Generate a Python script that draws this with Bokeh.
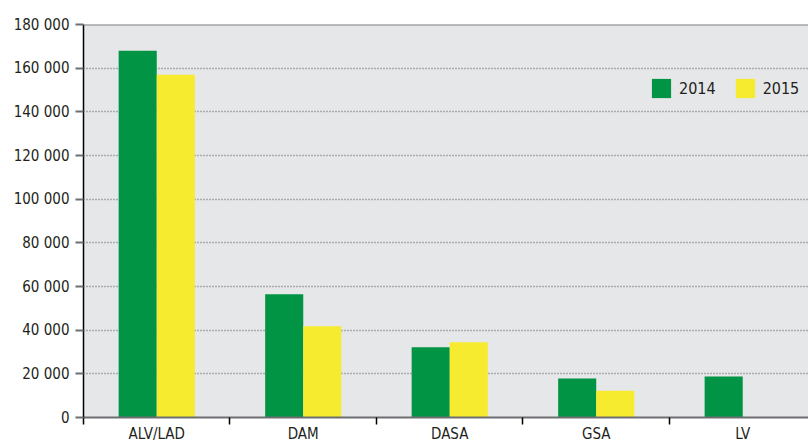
from bokeh.plotting import figure
from bokeh.models import (Range1d, FixedTicker, Legend, LegendItem, Span, ColumnDataSource)
from bokeh.embed import file_html
from bokeh.resources import INLINE

categories = ["ALV/LAD", "DAM", "DASA", "GSA", "LV"]
series_names = ["2014", "2015"]
values_2014 = [168000, 56500, 32200, 17900, 18800]
values_2015 = [157000, 41800, 34500, 12200, 0]
y_ticks = [0, 20000, 40000, 60000, 80000, 100000, 120000, 140000, 160000, 180000]
y_tick_labels = ["0", "20 000", "40 000", "60 000", "80 000", "100 000",
                 "120 000", "140 000", "160 000", "180 000"]

FONT = "DejaVu Sans Condensed"
TEXT = "#231f20"
GREEN = "#009444"
YELLOW = "#f6eb2f"

centers = [i + 0.5 for i in range(len(categories))]
bw = 0.26

p = figure(width=808, height=445, output_backend="svg", toolbar_location=None,
           x_range=Range1d(0, 4.949), y_range=Range1d(0, 180000),
           min_border_left=83, min_border_right=0, min_border_top=24,
           min_border_bottom=26)
p.background_fill_color = "#e6e7e8"
p.border_fill_color = "white"
p.outline_line_color = None

src = ColumnDataSource(dict(x1=[c - bw / 2 for c in centers], x2=[c + bw / 2 for c in centers],
                            v1=values_2014, v2=values_2015))
r1 = p.vbar(x="x1", top="v1", width=bw, source=src, fill_color=GREEN, line_color=None)
r2 = p.vbar(x="x2", top="v2", width=bw, source=src, fill_color=YELLOW, line_color=None)

# y axis
p.yaxis.ticker = FixedTicker(ticks=y_ticks, minor_ticks=[])
p.yaxis.major_label_overrides = {t: l for t, l in zip(y_ticks, y_tick_labels)}
p.yaxis.major_label_text_font = FONT
p.yaxis.major_label_text_font_size = "15px"
p.yaxis.major_label_text_color = TEXT
p.yaxis.major_tick_out = 8
p.yaxis.major_tick_in = 0
p.yaxis.major_tick_line_color = "#6d6e71"
p.yaxis.major_tick_line_width = 2
p.yaxis.axis_line_color = "black"
p.yaxis.axis_line_width = 1.5
p.yaxis.major_label_standoff = 6

# x axis
p.xaxis.ticker = FixedTicker(ticks=centers, minor_ticks=[0, 1, 2, 3, 4, 5])
p.xaxis.major_label_overrides = {c: n for c, n in zip(centers, categories)}
p.xaxis.major_label_text_font = FONT
p.xaxis.major_label_text_font_size = "15px"
p.xaxis.major_label_text_color = TEXT
p.xaxis.major_tick_out = 0
p.xaxis.major_tick_in = 0
p.xaxis.minor_tick_out = 7
p.xaxis.minor_tick_in = 0
p.xaxis.minor_tick_line_color = "black"
p.xaxis.minor_tick_line_width = 1.5
p.xaxis.axis_line_color = "#6d6e71"
p.xaxis.axis_line_width = 2
p.xaxis.major_label_standoff = 0

p.xgrid.grid_line_color = None
p.ygrid.ticker = FixedTicker(ticks=y_ticks[1:-1])
p.ygrid.grid_line_color = "#6d6e71"
p.ygrid.grid_line_dash = "1 2"
p.ygrid.grid_line_width = 1.5

top = Span(location=180000, dimension="width", line_color="#808285", line_width=2)
p.add_layout(top)

legend = Legend(items=[LegendItem(label=series_names[0], renderers=[r1]),
                       LegendItem(label=series_names[1], renderers=[r2])],
                orientation="horizontal", location=(566, 317),
                glyph_width=24, glyph_height=24, label_standoff=6, spacing=17,
                padding=0, margin=0, border_line_color=None,
                background_fill_alpha=0,
                label_text_font=FONT, label_text_font_size="16px",
                label_text_color=TEXT, label_height=24)
p.add_layout(legend)

open("out.html", "w").write(file_html(p, INLINE))
